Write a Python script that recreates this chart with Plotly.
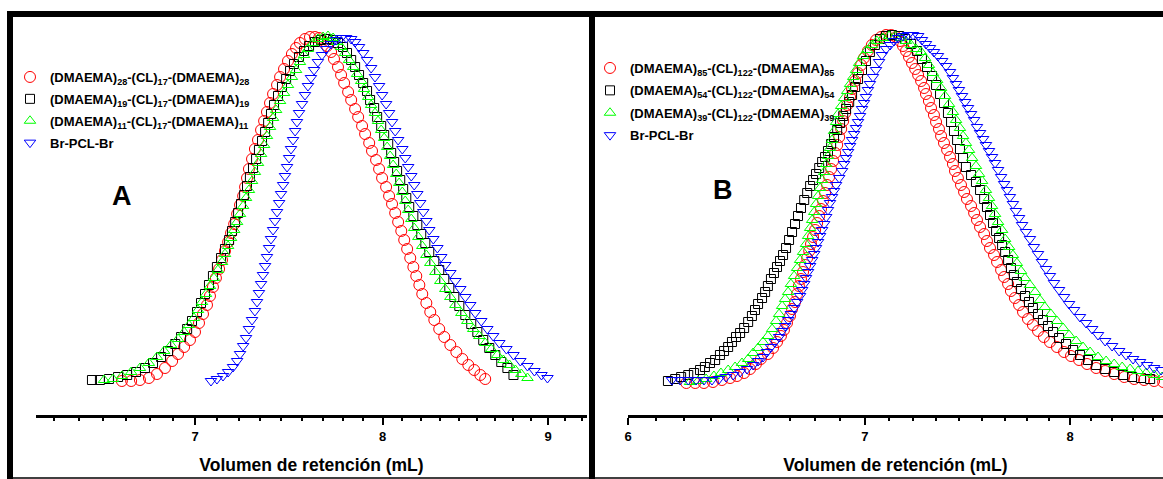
import plotly.graph_objects as go

# ---------------- Panel A : PDMAEMA-b-PCL-b-PDMAEMA (CL)17 ----------------
vol_A28 = [6.645,6.689,6.731,6.774,6.813,6.852,6.887,6.916,6.946,6.975,7.000,7.020,7.040,7.060,7.075,7.090,7.105,7.121,7.136,7.151,
           7.167,7.182,7.198,7.213,7.228,7.244,7.254,7.264,7.274,7.290,7.305,7.321,7.337,7.353,7.368,7.384,7.400,7.421,7.437,7.458,
           7.479,7.500,7.522,7.543,7.570,7.597,7.624,7.646,
           7.668,7.690,7.712,7.728,7.750,7.767,7.784,7.806,7.823,7.845,7.862,7.884,7.901,7.924,7.940,7.963,7.980,7.997,8.020,8.037,
           8.054,8.072,8.089,8.107,8.124,8.141,8.159,8.177,8.194,8.212,8.229,8.253,8.276,8.300,8.329,8.359,8.395,8.431,8.467,8.503,
           8.539,8.576,8.606]
sig_A28 = [0,0,1,3,7,13,20,27,34,41,49,58,67,76,85,94,103,112,121,130,
           139,148,157,167,176,185,194,203,212,222,232,241,251,260,269,278,287,296,304,312,
           320,327,333,338,342,344,344,343,
           340,335,329,322,314,306,298,289,281,272,264,255,247,238,230,221,212,203,194,185,
           177,168,159,150,141,132,123,114,105,96,87,78,69,61,52,44,36,29,22,16,
           11,6,2]

vol_A19 = [6.505,6.542,6.584,6.627,6.670,6.712,6.755,6.794,6.833,6.867,6.902,6.931,6.961,6.985,7.010,7.030,7.050,7.070,7.090,7.110,
           7.131,7.151,7.172,7.187,7.203,7.218,7.233,7.249,7.264,7.279,7.295,7.311,7.326,7.342,7.358,7.374,7.389,7.405,7.426,7.447,
           7.469,7.490,7.511,7.538,7.565,7.592,7.624,7.657,7.690,
           7.723,7.750,7.778,7.800,7.823,7.845,7.867,7.890,7.912,7.929,7.952,7.969,7.992,8.009,8.032,8.049,8.066,8.083,8.101,8.118,
           8.136,8.153,8.177,8.200,8.223,8.247,8.270,8.300,8.329,8.359,8.389,8.419,8.449,8.485,8.521,8.558,8.594,8.631,8.668,8.705,
           8.743,8.781]
sig_A19 = [1,1,2,4,6,9,13,18,24,30,37,44,52,60,69,78,87,96,105,114,
           123,132,141,150,159,168,177,186,195,204,213,222,231,240,249,258,267,276,285,294,
           302,310,317,324,330,335,339,341,342,
           341,338,334,328,321,314,306,298,290,281,273,264,255,246,237,228,219,210,201,192,
           183,174,165,156,147,138,129,120,111,102,93,84,75,66,57,49,41,33,26,19,
           13,6]

vol_A11 = [6.561,6.603,6.645,6.689,6.731,6.774,6.813,6.848,6.882,6.916,6.946,6.970,6.995,7.015,7.035,7.055,7.075,7.095,7.115,7.136,
           7.151,7.167,7.182,7.198,7.213,7.228,7.244,7.259,7.274,7.290,7.305,7.321,7.337,7.353,7.368,7.384,7.400,7.416,7.437,7.458,
           7.479,7.500,7.522,7.543,7.565,7.586,7.613,7.640,7.668,7.695,
           7.723,7.745,7.767,7.789,7.811,7.834,7.856,7.879,7.895,7.918,7.935,7.957,7.974,7.992,8.009,8.026,8.043,8.060,8.078,8.095,
           8.113,8.130,8.147,8.165,8.182,8.206,8.229,8.253,8.276,8.306,8.335,8.365,8.395,8.425,8.461,8.497,8.533,8.570,8.606,8.643,
           8.680,8.718,8.756,8.793,8.830,8.869]
sig_A11 = [1,2,5,9,13,18,24,30,36,42,49,56,63,71,79,87,95,103,111,119,
           127,135,143,151,159,167,175,183,191,200,209,218,227,236,245,254,263,271,280,288,
           296,304,311,319,326,332,338,342,344,345,
           343,339,334,328,321,314,307,300,292,284,276,268,260,251,243,234,225,216,207,198,
           189,180,171,162,153,144,135,126,118,109,100,92,84,76,68,60,52,45,38,32,
           26,21,16,11,7,3]

vol_APCL = [7.080,7.110,7.141,7.167,7.192,7.213,7.228,7.244,7.259,7.274,7.290,7.305,7.316,7.326,7.337,7.347,7.358,7.368,7.379,7.389,
            7.400,7.410,7.421,7.432,7.442,7.453,7.463,7.474,7.485,7.495,7.506,7.517,7.527,7.538,7.554,7.570,7.586,7.602,7.619,7.640,
            7.662,7.684,7.712,7.739,7.767,7.795,7.823,
            7.845,7.867,7.890,7.912,7.935,7.957,7.980,7.997,8.020,8.037,8.054,8.072,8.089,8.113,8.130,8.147,8.165,8.182,8.200,8.217,
            8.235,8.253,8.270,8.294,8.318,8.341,8.365,8.395,8.425,8.455,8.485,8.515,8.545,8.582,8.619,8.655,8.693,8.737,8.781,8.824,
            8.869,8.913,8.958,8.996]
sig_APCL = [0,2,5,9,14,20,27,35,43,52,61,70,79,88,97,106,115,124,133,142,
            151,160,169,178,187,196,205,214,223,232,241,250,259,268,277,286,295,303,311,319,
            326,332,337,341,343,343,342,
            339,334,328,321,313,304,295,286,277,268,259,250,241,232,223,214,205,196,187,178,
            169,160,151,142,133,124,116,108,100,92,84,76,68,60,52,45,38,32,26,20,
            15,10,6,3]

# ---------------- Panel B : PDMAEMA-b-PCL-b-PDMAEMA (CL)122 ----------------
vol_B85 = [6.232,6.268,6.304,6.341,6.378,6.412,6.441,6.471,6.496,6.521,6.542,6.572,6.594,6.611,6.628,6.641,6.654,6.667,6.676,6.689,
           6.698,6.706,6.715,6.724,6.733,6.742,6.751,6.759,6.768,6.777,6.786,6.795,6.803,6.812,6.821,6.830,6.839,6.848,6.857,6.866,
           6.875,6.884,6.893,6.902,6.911,6.920,6.933,6.942,6.956,6.969,6.983,6.996,7.014,7.032,7.051,7.074,7.097,7.121,7.144,
           7.162,7.176,7.190,7.204,7.218,7.233,7.247,7.261,7.275,7.284,7.298,7.308,7.322,7.332,7.346,7.356,7.370,7.385,7.399,7.413,
           7.423,7.437,7.452,7.467,7.481,7.501,7.516,7.530,7.545,7.565,7.579,7.594,7.614,7.629,7.649,7.664,7.684,7.698,7.718,7.739,
           7.759,7.784,7.809,7.835,7.865,7.896,7.932,7.969,8.005,8.047,8.089,8.137,8.185,8.233,8.287,8.341,8.395,8.450,8.500]
sig_B85 = [0,0,0,1,3,5,7,10,14,19,24,29,35,41,47,53,60,67,74,81,
           89,97,104,111,118,125,132,139,146,153,160,167,174,182,190,198,206,214,222,230,
           238,246,254,262,270,278,286,294,302,310,318,325,332,338,343,346,348,348,346,
           342,337,332,326,320,314,308,302,295,289,282,275,268,261,254,247,240,233,226,219,
           212,205,198,191,184,177,170,163,156,149,142,135,128,121,113,106,99,92,85,78,
           71,64,58,52,46,41,36,31,27,23,19,15,12,9,6,4,3,2,1]

vol_B54 = [6.158,6.187,6.211,6.240,6.263,6.288,6.308,6.329,6.350,6.370,6.387,6.404,6.420,6.437,6.454,6.471,6.488,6.504,6.517,6.530,
           6.547,6.560,6.572,6.585,6.598,6.611,6.624,6.637,6.650,6.663,6.676,6.689,6.702,6.715,6.729,6.742,6.755,6.768,6.781,6.795,
           6.808,6.821,6.834,6.848,6.861,6.875,6.888,6.902,6.915,6.929,6.942,6.956,6.969,6.987,7.005,7.023,7.046,7.069,7.097,7.125,
           7.158,7.186,7.214,7.242,7.265,7.289,7.313,7.332,7.351,7.370,7.389,7.404,7.418,7.433,7.447,7.462,7.476,7.501,7.525,7.545,
           7.565,7.579,7.594,7.609,7.624,7.639,7.654,7.669,7.684,7.698,7.713,7.728,7.749,7.769,7.789,7.809,7.835,7.860,7.886,7.912,
           7.943,7.979,8.016,8.052,8.094,8.137,8.185,8.233,8.281,8.330,8.378,8.428]
sig_B54 = [2,4,6,8,10,13,16,20,23,28,32,36,41,46,50,55,61,67,73,79,
           85,91,97,104,110,116,122,128,135,143,151,159,167,175,183,190,197,203,209,215,
           221,226,232,239,246,253,260,267,274,281,288,296,304,313,322,331,338,344,347,348,
           347,344,339,332,324,316,307,298,289,280,270,261,252,243,234,225,216,208,201,193,
           184,176,168,160,152,145,138,131,123,115,108,101,94,87,81,75,69,63,57,51,
           45,39,33,28,23,18,14,11,8,6,5,4]

vol_B39 = [6.247,6.280,6.313,6.345,6.374,6.404,6.433,6.462,6.488,6.509,6.530,6.551,6.572,6.590,6.607,6.620,6.633,6.646,6.659,6.671,
           6.685,6.698,6.711,6.724,6.737,6.746,6.755,6.764,6.773,6.781,6.790,6.799,6.808,6.817,6.826,6.834,6.843,6.852,6.861,6.870,
           6.879,6.893,6.906,6.920,6.933,6.947,6.960,6.974,6.992,7.010,7.032,7.055,7.083,7.111,7.140,7.167,7.190,7.214,7.237,7.261,
           7.280,7.298,7.317,7.337,7.356,7.375,7.394,7.413,7.428,7.447,7.462,7.476,7.491,7.506,7.525,7.540,7.555,7.574,7.589,7.604,
           7.619,7.634,7.654,7.669,7.689,7.708,7.728,7.749,7.769,7.794,7.820,7.845,7.870,7.901,7.932,7.964,7.995,8.032,8.068,8.105,
           8.147,8.190,8.233,8.276,8.319,8.362,8.406,8.450,8.494]
sig_B39 = [1,2,4,7,10,13,16,20,24,30,35,41,47,54,62,69,77,84,91,99,
           107,115,123,131,139,147,155,163,171,179,187,195,203,211,219,227,235,243,252,261,
           269,277,285,292,299,306,313,320,327,333,338,342,345,347,347,345,342,338,334,331,
           325,318,310,303,295,287,279,271,263,255,247,240,233,225,217,209,202,193,185,177,
           169,161,153,144,136,128,120,112,105,98,91,83,76,69,62,55,48,42,36,31,
           26,22,19,16,14,12,10,8,6]

vol_BPCL = [6.174,6.207,6.240,6.272,6.304,6.337,6.366,6.395,6.425,6.454,6.483,6.509,6.530,6.551,6.568,6.585,6.602,6.620,6.633,6.646,
            6.659,6.671,6.685,6.698,6.711,6.720,6.729,6.737,6.746,6.755,6.764,6.773,6.781,6.790,6.799,6.808,6.817,6.826,6.834,6.843,
            6.852,6.861,6.870,6.884,6.897,6.906,6.915,6.924,6.933,6.942,6.951,6.960,6.969,6.978,6.987,6.996,7.005,7.014,7.023,7.037,
            7.051,7.065,7.078,7.097,7.116,7.134,7.153,7.176,7.200,7.223,7.247,
            7.265,7.284,7.303,7.322,7.341,7.361,7.380,7.399,7.413,7.428,7.442,7.457,7.472,7.486,7.501,7.516,7.530,7.545,7.560,7.574,
            7.589,7.604,7.619,7.634,7.649,7.664,7.679,7.693,7.708,7.723,7.739,7.754,7.774,7.794,7.814,7.835,7.855,7.876,7.896,7.917,
            7.943,7.969,7.995,8.021,8.052,8.084,8.116,8.147,8.185,8.222,8.260,8.297,8.335,8.373,8.411,8.450,8.488]
sig_BPCL = [3,3,3,3,3,3,4,6,8,11,14,18,22,26,31,36,41,46,52,57,
            63,69,75,81,87,93,99,105,111,117,123,129,135,141,147,153,159,166,173,180,
            186,192,198,205,212,219,225,231,237,243,249,255,261,267,274,280,286,293,299,306,
            313,321,328,334,338,342,345,347,348,348,347,
            343,339,335,331,327,322,317,311,305,299,293,287,281,275,269,263,256,250,244,238,
            232,226,220,213,206,199,193,186,179,172,165,158,151,144,136,129,121,114,107,100,
            93,86,79,73,66,60,54,48,42,37,32,28,24,21,18,15,13]

names_A = ["(DMAEMA)<sub>28</sub>-(CL)<sub>17</sub>-(DMAEMA)<sub>28</sub>",
           "(DMAEMA)<sub>19</sub>-(CL)<sub>17</sub>-(DMAEMA)<sub>19</sub>",
           "(DMAEMA)<sub>11</sub>-(CL)<sub>17</sub>-(DMAEMA)<sub>11</sub>",
           "Br-PCL-Br"]
names_B = ["(DMAEMA)<sub>85</sub>-(CL)<sub>122</sub>-(DMAEMA)<sub>85</sub>",
           "(DMAEMA)<sub>54</sub>-(CL)<sub>122</sub>-(DMAEMA)<sub>54</sub>",
           "(DMAEMA)<sub>39</sub>-(CL)<sub>122</sub>-(DMAEMA)<sub>39</sub>",
           "Br-PCL-Br"]
x_title = "Volumen de retención (mL)"
ticks_A = [7, 8, 9]
ticks_B = [6, 7, 8]

FONT = "Liberation Sans, Arial, sans-serif"
W, H = 1163, 479
TOP, BOT = 20, 415          # plot-area pixel rows


def PX(p):
    return p / W


def PY(p):
    return (BOT - p) / (BOT - TOP)


styles = [("circle-open", "rgb(255,0,0)", 11),
          ("square-open", "rgb(0,0,0)", 9),
          ("triangle-up-open", "rgb(0,255,0)", 10),
          ("triangle-down-open", "rgb(0,0,255)", 10)]

fig = go.Figure()
for i, ((nm, xs, ys), (sym, col, sz)) in enumerate(zip(
        [(names_A[0], vol_A28, sig_A28), (names_A[1], vol_A19, sig_A19),
         (names_A[2], vol_A11, sig_A11), (names_A[3], vol_APCL, sig_APCL)], styles)):
    fig.add_trace(go.Scatter(x=xs, y=ys, mode="markers", name=nm, xaxis="x", yaxis="y",
                             legend="legend", legendgroup="A%d" % i,
                             marker=dict(symbol=sym, size=sz, color=col, line=dict(width=1, color=col))))
for i, ((nm, xs, ys), (sym, col, sz)) in enumerate(zip(
        [(names_B[0], vol_B85, sig_B85), (names_B[1], vol_B54, sig_B54),
         (names_B[2], vol_B39, sig_B39), (names_B[3], vol_BPCL, sig_BPCL)], styles)):
    fig.add_trace(go.Scatter(x=xs, y=ys, mode="markers", name=nm, xaxis="x2", yaxis="y2",
                             legend="legend2", legendgroup="B%d" % i,
                             marker=dict(symbol=sym, size=sz, color=col, line=dict(width=1, color=col))))


def minor_vals(lo, hi):
    out = []
    for m in range(5, 10):
        for k in range(1, 9):
            v = m + k / 9
            if lo < v < hi:
                out.append(round(v, 4))
    return out


def xaxis_cfg(dom, rng, tv, lo, hi):
    return dict(type="log", domain=dom, range=rng, showline=True, linecolor="black", linewidth=3,
                ticks="outside", ticklen=7, tickwidth=2, tickcolor="black",
                tickmode="array", tickvals=tv, ticktext=[str(t) for t in tv],
                tickfont=dict(family=FONT, size=13, color="black", weight="bold"),
                minor=dict(tickmode="array", tickvals=minor_vals(lo, hi), ticks="outside",
                           ticklen=3, tickwidth=2, tickcolor="black", showgrid=False),
                showgrid=False, zeroline=False, automargin=False, fixedrange=True,
                title=dict(text=x_title, standoff=17,
                           font=dict(family=FONT, size=17.5, color="black", weight="bold")))


legend_common = dict(xanchor="left", yanchor="top", bgcolor="rgba(0,0,0,0)", borderwidth=0,
                     font=dict(family=FONT, size=13, color="black", weight="bold"),
                     traceorder="grouped", itemclick=False, itemdoubleclick=False)

fig.update_layout(
    width=W, height=H, margin=dict(l=0, r=0, t=TOP, b=H - BOT, pad=0),
    paper_bgcolor="white", plot_bgcolor="white",
    xaxis=xaxis_cfg([PX(36), PX(587)], [0.795948, 0.966273], ticks_A, 6.25, 9.25),
    xaxis2=xaxis_cfg([PX(628), 1.0], [0.778151, 0.929366], ticks_B, 6.0, 8.5),
    yaxis=dict(domain=[0, 1], range=[-34, 361], visible=False, anchor="x", fixedrange=True),
    yaxis2=dict(domain=[0, 1], range=[-32, 363], visible=False, anchor="x2", fixedrange=True),
    legend=dict(x=PX(10), y=PY(62), tracegroupgap=2, **legend_common),
    legend2=dict(x=PX(590), y=PY(53), tracegroupgap=2.5, **legend_common),
    showlegend=True,
)
fig.layout.xaxis.anchor = "y"
fig.layout.xaxis2.anchor = "y2"

# Frame lines of the original figure
frame = [
    (7, 13, 11, 479),      # left bar
    (7, 1163, 11, 17),     # top bar
    (589, 595, 11, 479),   # divider
]
for x0, x1, y0, y1 in frame:
    fig.add_shape(type="rect", xref="paper", yref="paper", x0=PX(x0), x1=PX(x1), y0=PY(y1), y1=PY(y0),
                  fillcolor="black", line=dict(width=0), layer="above")
fig.add_shape(type="line", xref="paper", yref="paper", x0=PX(7), x1=PX(1163), y0=PY(478), y1=PY(478),
              line=dict(color="black", width=1.5))

for label, x, y in [("A", 122, 196), ("B", 723, 190)]:
    fig.add_annotation(text=label, xref="paper", yref="paper", x=PX(x), y=PY(y), showarrow=False,
                       xanchor="center", yanchor="middle",
                       font=dict(family=FONT, size=27, color="black", weight="bold"))

fig.write_html("out.html")
